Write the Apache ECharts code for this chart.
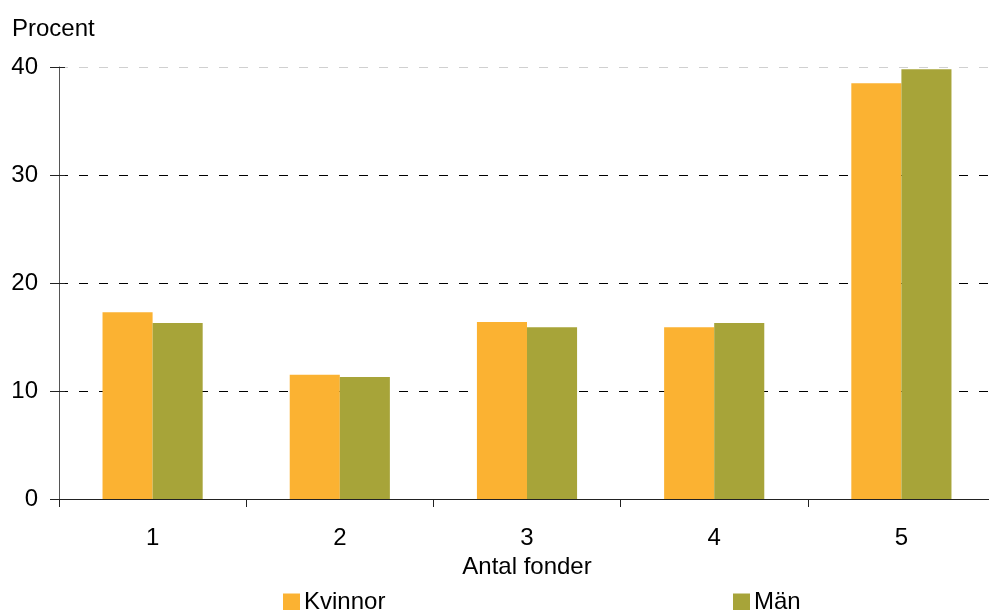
<!DOCTYPE html>
<html>
<head>
<meta charset="utf-8">
<script src="https://cdn.jsdelivr.net/npm/echarts@6/dist/echarts.min.js"></script>
<style>
  html, body { margin: 0; padding: 0; background: #fff; overflow: hidden; }
  #chart { width: 995px; height: 610px; }
</style>
</head>
<body>
<div id="chart"></div>
<script>
// Antal fonder i premiepensionen, andel i procent per kön
const categories = ['1', '2', '3', '4', '5'];
const kvinnor = [17.3, 11.5, 16.4, 15.9, 38.5];
const man = [16.3, 11.3, 15.9, 16.3, 39.8];
const yTicks = { min: 0, max: 40, interval: 10 };

const FONT = '"Liberation Sans", Arial, sans-serif';
const FONT_SIZE = 24;
const AXIS_COLOR = '#555555';
const TICK_COLOR = '#222222';

const legendItem = (name, left) => ({
  data: [name],
  left: left,
  top: 590,
  itemWidth: 17,
  itemHeight: 17,
  itemGap: 5,
  icon: 'rect',
  padding: 0,
  textStyle: { fontFamily: FONT, fontSize: FONT_SIZE, color: '#000', padding: [0, 0, 0, -1] }
});

const chart = echarts.init(document.getElementById('chart'), null, { renderer: 'canvas' });

chart.setOption({
  animation: false,
  backgroundColor: '#ffffff',
  textStyle: { fontFamily: FONT },
  title: {
    text: 'Procent',
    left: 7,
    top: 12,
    textStyle: { fontFamily: FONT, fontSize: FONT_SIZE, fontWeight: 'normal', color: '#000' }
  },
  legend: [legendItem('Kvinnor', 283), legendItem('Män', 733)],
  grid: { left: 59, right: 0, top: 67, bottom: 111, containLabel: false },
  xAxis: {
    type: 'category',
    data: categories,
    name: 'Antal fonder',
    nameLocation: 'middle',
    nameGap: 54,
    nameTextStyle: { fontFamily: FONT, fontSize: FONT_SIZE, color: '#000' },
    axisLine: { lineStyle: { color: TICK_COLOR, width: 1 } },
    axisTick: { show: true, length: 8, inside: false, alignWithLabel: false, lineStyle: { color: TICK_COLOR } },
    axisLabel: { fontFamily: FONT, fontSize: FONT_SIZE, color: '#000', margin: 27 },
    splitLine: { show: false }
  },
  yAxis: [
    {
      type: 'value',
      min: yTicks.min,
      max: yTicks.max,
      interval: yTicks.interval,
      axisLine: { show: true, lineStyle: { color: AXIS_COLOR, width: 1 } },
      axisTick: { show: true, length: 9, inside: false, lineStyle: { color: TICK_COLOR } },
      axisLabel: { fontFamily: FONT, fontSize: FONT_SIZE, color: '#000', margin: 21, padding: [5, 0, 0, 0] },
      splitLine: {
        show: true,
        lineStyle: {
          color: ['#000', '#000', '#000', '#000', '#d0d0d0'],
          width: 1,
          type: [9, 11]
        }
      }
    },
    {
      // inner half of the crossing tick marks on the value axis
      type: 'value',
      position: 'left',
      min: yTicks.min,
      max: yTicks.max,
      interval: yTicks.interval,
      axisLine: { show: false },
      axisTick: { show: true, length: 6, inside: true, lineStyle: { color: TICK_COLOR } },
      axisLabel: { show: false },
      splitLine: { show: false }
    }
  ],
  series: [
    {
      name: 'Kvinnor',
      type: 'bar',
      data: kvinnor,
      barGap: '0%',
      barCategoryGap: '46.5%',
      itemStyle: { color: '#FBB232' }
    },
    {
      name: 'Män',
      type: 'bar',
      data: man,
      barGap: '0%',
      barCategoryGap: '46.5%',
      itemStyle: { color: '#A7A439' }
    }
  ]
});
</script>
</body>
</html>
